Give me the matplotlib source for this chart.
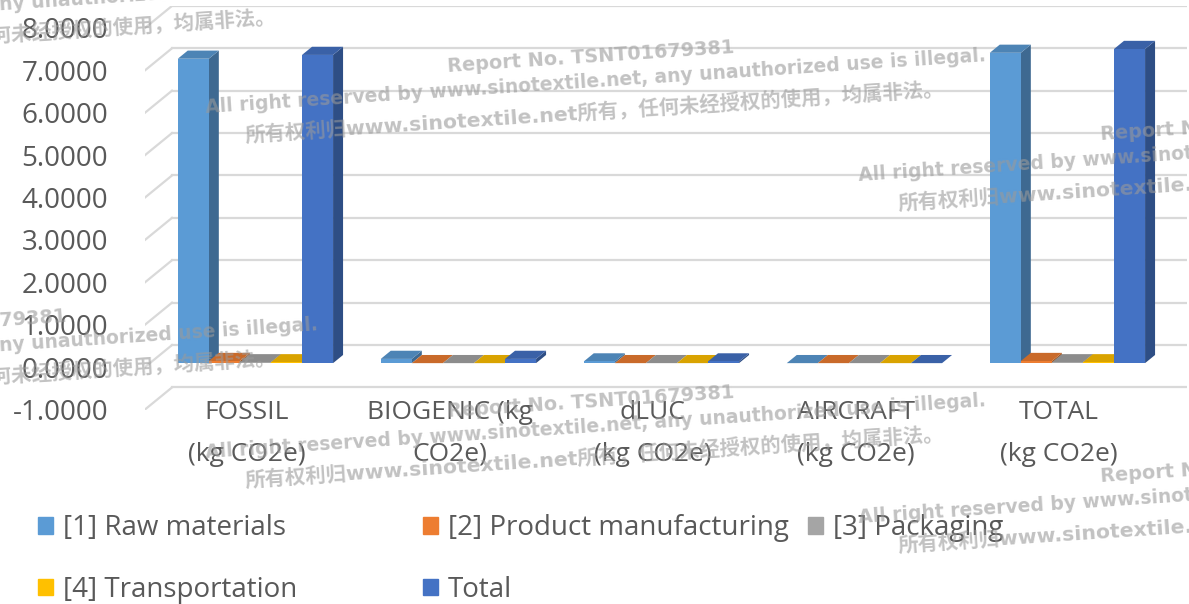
import numpy as np
import matplotlib
matplotlib.use('Agg')
import matplotlib.pyplot as plt
from matplotlib.patches import Patch, Polygon
from matplotlib.colors import to_rgb

# data
categories = ['FOSSIL\n(kg CO2e)', 'BIOGENIC (kg\nCO2e)', 'dLUC\n(kg CO2e)',
              'AIRCRAFT\n(kg CO2e)', 'TOTAL\n(kg CO2e)']
raw_materials = [7.18, 0.10, 0.04, 0.00, 7.32]
manufacturing = [0.05, 0.00, 0.00, 0.00, 0.05]
packaging = [0.02, 0.00, 0.00, 0.00, 0.02]
transportation = [0.02, 0.00, 0.00, 0.00, 0.02]
total = [7.27, 0.10, 0.04, 0.00, 7.41]
series_names = ['[1] Raw materials', '[2] Product manufacturing', '[3] Packaging',
                '[4] Transportation', 'Total']
series_colors = ['#5B9BD5', '#ED7D31', '#A5A5A5', '#FFC000', '#4472C4']
yticks = np.arange(-1, 9)

W, H = 1189, 604
depth_x = 0.133   # depth of the 3d box, in category units
depth_y = 0.52    # same, in value units
f0, f1 = 0.18, 0.55  # where the columns sit inside the depth
bw = 0.153
txt = '#595959'
grid = '#D9D9D9'

plt.rcParams['font.family'] = ['Open Sans', 'DejaVu Sans']


def shade(c, k):
    return tuple(np.array(to_rgb(c)) * k)


fig = plt.figure(figsize=(W / 100, H / 100), dpi=100)
ax = fig.add_axes([145 / W, (H - 409.5) / H, 1042 / W, 403.6 / H])
ax.set_xlim(-0.5, 4.5 + depth_x)
ax.set_ylim(-1, 8 + depth_y)
for s in ax.spines.values():
    s.set_visible(False)

# side wall + back wall gridlines
for v in yticks:
    ax.plot([-0.5, -0.5 + depth_x], [v, v + depth_y], color=grid, lw=1.6, zorder=1)
    ax.plot([-0.5 + depth_x, 4.5 + depth_x], [v + depth_y, v + depth_y],
            color=grid, lw=1.6, zorder=1)

series = [raw_materials, manufacturing, packaging, transportation, total]
ddx = (f1 - f0) * depth_x
ddy = (f1 - f0) * depth_y
z = 2
for i in range(len(categories)):
    for j, vals in enumerate(series):
        c = series_colors[j]
        v = vals[i]
        x0 = i - 2.5 * bw + 0.02 + j * bw + f0 * depth_x
        y0 = f0 * depth_y
        side = Polygon([(x0 + bw, y0), (x0 + bw + ddx, y0 + ddy),
                        (x0 + bw + ddx, y0 + v + ddy), (x0 + bw, y0 + v)],
                       closed=True, fc=shade(c, 0.68), ec='none', zorder=z)
        top = Polygon([(x0, y0 + v), (x0 + bw, y0 + v),
                       (x0 + bw + ddx, y0 + v + ddy), (x0 + ddx, y0 + v + ddy)],
                      closed=True, fc=shade(c, 0.85), ec='none', zorder=z + 1)
        ax.add_patch(side)
        ax.add_patch(top)
        ax.bar(x0, v, width=bw, bottom=y0, align='edge', color=c, zorder=z + 2)
        z += 3

ax.set_yticks(yticks, labels=['%.4f' % v for v in yticks])
ax.tick_params(axis='y', length=0, pad=26.6, labelsize=20, labelcolor=txt)
ax.set_xticks(range(len(categories)), labels=categories)
ax.tick_params(axis='x', length=0, pad=-7, labelsize=19, labelcolor=txt)
for lbl in ax.get_xticklabels():
    lbl.set_linespacing(1.9)

# legend, laid out in fixed columns like the original
handles = [Patch(color=c, label=n) for c, n in zip(series_colors, series_names)]
legend_cols = [([handles[0], handles[3]], 38), ([handles[1], handles[4]], 423),
               ([handles[2]], 808)]
for hs, xpx in legend_cols:
    fig.legend(handles=hs, loc='upper left', bbox_to_anchor=(xpx / W, 1 - 514 / H),
               frameon=False, fontsize=20, labelcolor=txt, borderpad=0,
               borderaxespad=0, handlelength=0.55, handleheight=0.55,
               handletextpad=0.35, labelspacing=1.22)

# watermark
wm_lines = ['Report No. TSNT01679381',
            'All right reserved by www.sinotextile.net, any unauthorized use is illegal.',
            '所有权利归www.sinotextile.net所有，任何未经授权的使用，均属非法。']
wm_sizes = [13.9, 13.5, 14.7]
wm_offsets = [(0, 0), (-242, 41), (-202, 68)]
wm_blocks = [(447, 67), (447, 412), (1100, 135), (1100, 477), (-221, 336), (-221, -5)]
for bx, by in wm_blocks:
    for line, size, (ox, oy) in zip(wm_lines, wm_sizes, wm_offsets):
        fig.text((bx + ox) / W, 1 - (by + oy) / H, line, rotation=3.8,
                 rotation_mode='anchor', ha='left', va='center', fontsize=size,
                 fontweight='bold', color='#9a9a9a', alpha=0.6,
                 family=['DejaVu Sans', 'Noto Sans CJK SC'], zorder=100)

fig.savefig('out.png', dpi=100)
